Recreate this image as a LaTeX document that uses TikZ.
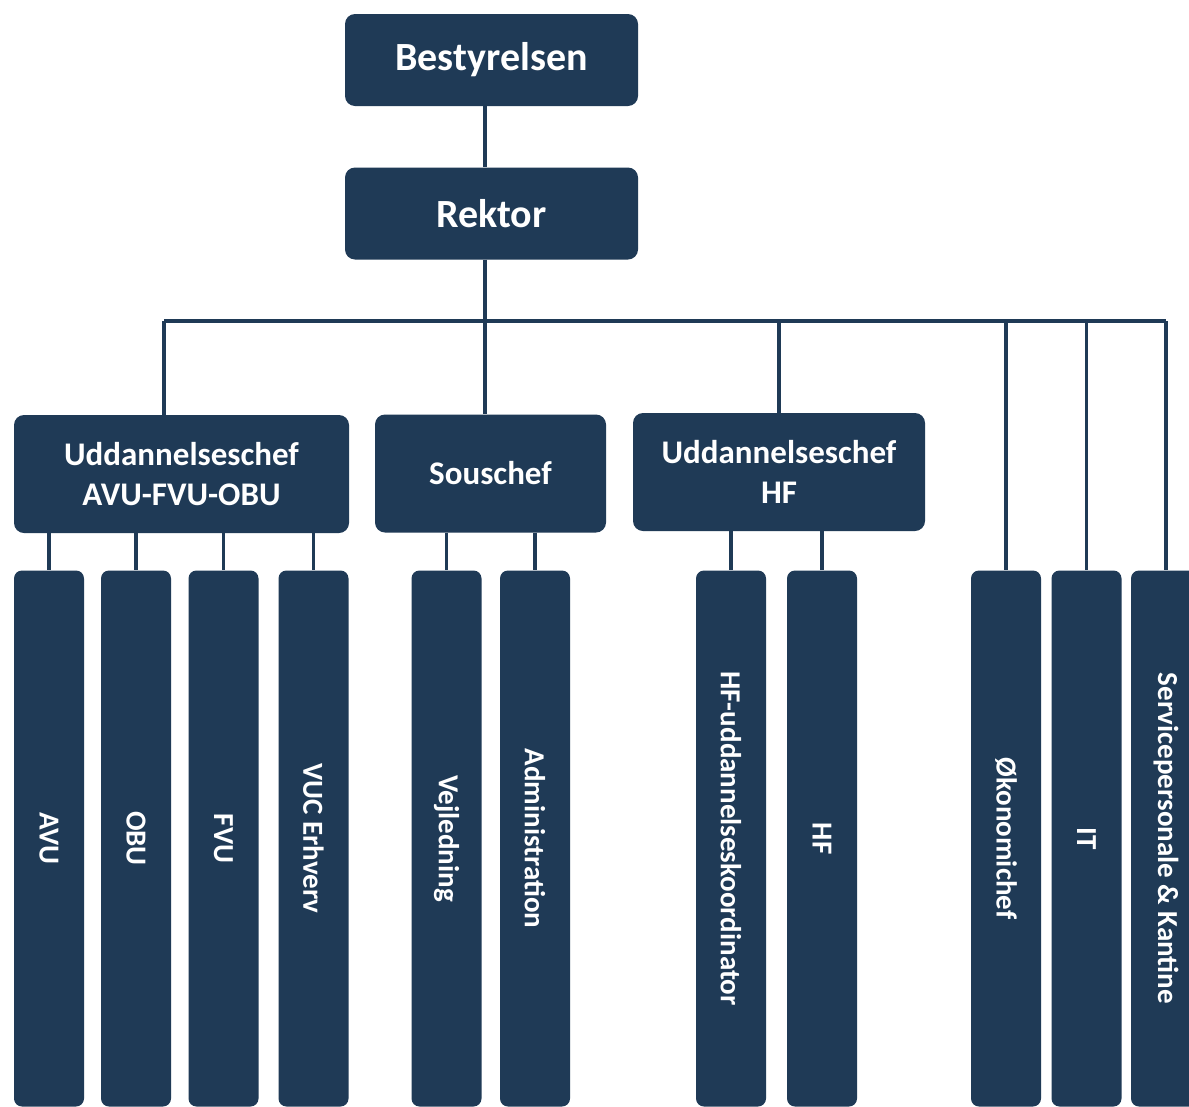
\documentclass[tikz,border=0pt]{standalone}
\usepackage{fontspec}
\setmainfont{Carlito}
\definecolor{navy}{HTML}{1F3A56}
\begin{document}
\begin{tikzpicture}[x=1pt,y=-1pt,
  box/.style={fill=navy, rounded corners=10pt, text=white, inner sep=0pt, align=center, font=\bfseries},
  topbox/.style={box, minimum width=293pt, minimum height=92pt, font=\fontsize{40}{44}\selectfont\bfseries},
  midbox/.style={box, minimum height=118pt, font=\fontsize{33}{40}\selectfont\bfseries},
  col/.style={box, minimum width=70pt, minimum height=536pt, rounded corners=8pt},
  coltext/.style={rotate=-90, text=white, font=\fontsize{29}{32}\selectfont\bfseries, inner sep=0pt},
  conn/.style={draw=navy, line width=3.5pt}]
\useasboundingbox[fill=white] (0,0) rectangle (1189,1106);
% top
\node[topbox] (b) at (491.5,60) {Bestyrelsen};
\node[topbox] (r) at (491.5,213.5) {Rektor};
% level 2
\node[midbox, minimum width=335pt] (ua) at (181.5,474) {Uddannelseschef\\AVU-FVU-OBU};
\node[midbox, minimum width=231pt] (sous) at (490.5,473.5) {Souschef};
\node[midbox, minimum width=292pt] (uhf) at (779,472) {Uddannelseschef\\HF};
% columns
\node[col] (avu) at (49,838.5) {};
\node[coltext] at (avu.center) {AVU};
\node[col] (obu) at (136,838.5) {};
\node[coltext] at (obu.center) {OBU};
\node[col] (fvu) at (223.5,838.5) {};
\node[coltext] at (fvu.center) {FVU};
\node[col] (vuc) at (313.5,838.5) {};
\node[coltext] at (vuc.center) {VUC Erhverv};
\node[col] (vej) at (446.5,838.5) {};
\node[coltext] at (vej.center) {Vejledning};
\node[col] (adm) at (535,838.5) {};
\node[coltext] at (adm.center) {Administration};
\node[col] (hfk) at (731,838.5) {};
\node[coltext] at (hfk.center) {HF-uddannelseskoordinator};
\node[col] (hf) at (822,838.5) {};
\node[coltext] at (hf.center) {HF};
\node[col] (ok) at (1006,838.5) {};
\node[coltext] at (ok.center) {Økonomichef};
\node[col] (it) at (1086.5,838.5) {};
\node[coltext] at (it.center) {IT};
\node[col] (serv) at (1166,838.5) {};
\node[coltext] at (serv.center) {Servicepersonale \& Kantine};
% connectors
\coordinate (sp) at (485,321);
\coordinate (busL) at (164,321);
\draw[conn] (b.south -| sp) -- (r.north -| sp);
\draw[conn] (r.south -| sp) -- (sous.north -| sp);
\draw[conn] (busL) -- (serv.north |- busL);
\draw[conn] (busL) -- (busL |- ua.north);
\draw[conn] (uhf.north |- busL) -- (uhf.north);
\draw[conn] (ok.north |- busL) -- (ok.north);
\draw[conn] (it.north |- busL) -- (it.north);
\draw[conn] (serv.north |- busL) -- (serv.north);
\foreach \c in {avu,obu,fvu,vuc}{\draw[conn] (\c.north |- ua.south) -- (\c.north);}
\foreach \c in {vej,adm}{\draw[conn] (\c.north |- sous.south) -- (\c.north);}
\foreach \c in {hfk,hf}{\draw[conn] (\c.north |- uhf.south) -- (\c.north);}
\end{tikzpicture}
\end{document}
